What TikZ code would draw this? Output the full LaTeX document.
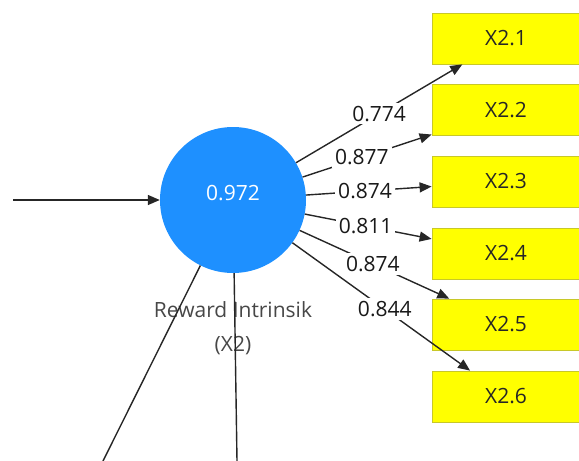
\documentclass[tikz,border=0pt]{standalone}
\usepackage{fontspec}
\setmainfont{Open Sans}
\usetikzlibrary{arrows.meta}
\definecolor{birulv}{RGB}{30,144,255}
\definecolor{kuning}{RGB}{255,255,0}
\definecolor{tepikuning}{RGB}{200,200,40}

\begin{document}
\begin{tikzpicture}[x=1pt, y=-1pt,
  font=\fontsize{21}{34}\selectfont,
  lv/.style={circle, fill=birulv, minimum size=146pt, inner sep=0pt},
  ind/.style={rectangle, fill=kuning, draw=tepikuning, line width=0.8pt,
    minimum width=148pt, minimum height=51pt, inner sep=0pt, text=black!85},
  panah/.style={draw=black!85, line width=1.4pt, -{Triangle[length=12pt,width=10pt]}},
  garis/.style={draw=black!85, line width=1.4pt},
  beban/.style={fill=white, inner sep=3pt, text=black!90}]
\useasboundingbox (0,0) rectangle (579,461);
\clip (0,0) rectangle (579,461);

% Konstruk
\node [lv] (x2) at (233,200) {};
\node [text=white] (nilai) at (233,193) {0.972};
\node [text=black!72, align=center] (nama) at (233,328) {Reward Intrinsik\\(X2)};

% Indikator
\node [ind] (x21) at (506,38.5) {X2.1};
\node [ind] (x22) at (506,110) {X2.2};
\node [ind] (x23) at (506,181.5) {X2.3};
\node [ind] (x24) at (506,253.5) {X2.4};
\node [ind] (x25) at (506,324.5) {X2.5};
\node [ind] (x26) at (506,396.5) {X2.6};

% Ujung bebas
\coordinate (masuk) at (13,200);
\coordinate (bawahA) at (103,461);
\coordinate (bawahB) at (237,461);

% Jalur
\draw [panah] (masuk) -- (x2);
\draw [garis] (x2) -- (bawahA);
\draw [garis] (x2) -- (bawahB);

% Loading
\draw [panah] (x2) -- node [beban, pos=0.5] {0.774} (x21);
\draw [panah] (x2) -- node [beban, pos=0.46] {0.877} (x22);
\draw [panah] (x2) -- node [beban, pos=0.47] {0.874} (x23);
\draw [panah] (x2) -- node [beban, pos=0.48] {0.811} (x24);
\draw [panah] (x2) -- node [beban, pos=0.49] {0.874} (x25);
\draw [panah] (x2) -- node [beban, pos=0.52] {0.844} (x26);
\end{tikzpicture}
\end{document}
